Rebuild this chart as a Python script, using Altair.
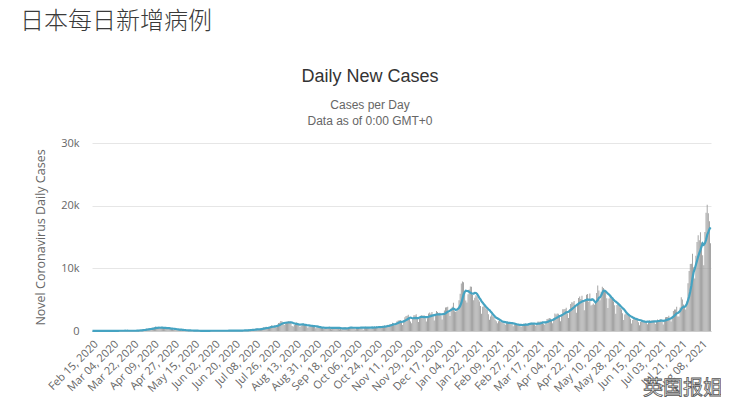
import altair as alt
import pandas as pd

# Daily new cases, Japan, month by month
feb20 = [12, 6, 6, 9, 11, 12, 12, 22, 12, 13, 15, 20, 20, 22, 9]
mar20 = [14, 15, 19, 33, 36, 49, 48, 33, 32, 26, 54, 52, 55, 41, 64, 15, 36, 39, 40, 36,
         53, 43, 39, 43, 65, 96, 112, 194, 173, 87, 225]
apr20 = [266, 235, 351, 367, 383, 252, 351, 511, 503, 579, 720, 507, 391, 460, 482, 584,
         558, 583, 374, 358, 378, 420, 448, 394, 356, 303, 213, 232, 260, 165]
may20 = [228, 202, 232, 126, 124, 98, 104, 79, 91, 92, 67, 83, 46, 91, 48, 43, 21, 29, 37,
         32, 19, 33, 23, 30, 14, 35, 40, 58, 48, 37, 46]
jun20 = [29, 41, 32, 46, 44, 35, 38, 29, 36, 43, 46, 50, 38, 58, 71, 40, 66, 40, 68, 46,
         59, 53, 35, 96, 49, 103, 81, 115, 113, 80]
jul20 = [101, 179, 203, 229, 238, 204, 147, 177, 410, 394, 311, 310, 253, 238, 450, 621,
         595, 660, 511, 423, 630, 795, 920, 770, 838, 821, 613, 981, 1264, 1301, 1580]
aug20 = [1536, 1332, 963, 1240, 1356, 1485, 1597, 1566, 1442, 804, 703, 962, 1177, 1360,
         1232, 1023, 639, 893, 1055, 1148, 1025, 1003, 760, 528, 716, 880, 912, 849, 810,
         685, 438]
sep20 = [618, 592, 593, 613, 528, 468, 355, 510, 493, 647, 648, 545, 438, 272, 519, 514,
         565, 600, 558, 437, 286, 320, 273, 472, 557, 644, 477, 301, 517, 631]
oct20 = [622, 539, 563, 450, 281, 495, 589, 648, 609, 613, 491, 219, 530, 689, 610, 658,
         620, 418, 308, 642, 615, 682, 625, 769, 541, 455, 708, 718, 769, 787, 863]
nov20 = [614, 847, 1011, 864, 1110, 1133, 1323, 1203, 926, 1273, 1545, 1661, 1704, 1737,
         1441, 942, 1698, 2201, 2388, 2419, 2596, 2164, 1518, 1228, 1945, 2505, 2505, 2682,
         2072, 1426]
dec20 = [2041, 2434, 2514, 2442, 2514, 2044, 1528, 2023, 2805, 2965, 2766, 3033, 2387,
         1680, 2428, 3211, 3044, 2848, 2901, 2424, 1827, 2713, 3269, 3740, 3795, 3888,
         2946, 2395, 3597, 3852, 4520]
jan21 = [3141, 3058, 3139, 3323, 4915, 5934, 7570, 7882, 7787, 6095, 4876, 4537, 5870,
         6604, 7101, 7042, 5759, 4925, 5320, 5693, 5549, 5043, 4716, 3978, 2764, 3853,
         3950, 4131, 3539, 3345, 2675]
feb21 = [1792, 2324, 2630, 2373, 2279, 1780, 1570, 1217, 1570, 1908, 1470, 1400, 1359,
         1200, 1001, 1308, 1527, 1381, 1310, 1233, 1061, 769, 1071, 1097, 1045, 1002,
         1017, 946]
mar21 = [671, 908, 1174, 1170, 1195, 1015, 1008, 1169, 1289, 1321, 1284, 1146, 1052, 823,
         1034, 1498, 1465, 1533, 1460, 1499, 1119, 1012, 1499, 1921, 1949, 2061, 2006,
         1596, 1242, 2046, 2788]
apr21 = [2618, 2774, 2735, 2471, 1571, 2651, 3451, 3453, 3496, 3697, 2778, 2092, 3464,
         4308, 4573, 4541, 4801, 4090, 2925, 4327, 5285, 5504, 5109, 5606, 4603, 3314,
         4843, 5787, 5916, 4679]
may21 = [5986, 4053, 4200, 4373, 4171, 4470, 6054, 7242, 6477, 4919, 6250, 7057, 6870,
         6261, 6420, 5243, 3673, 5192, 5719, 5233, 5076, 4710, 4128, 2767, 4160, 4539,
         4132, 3687, 3419, 2824, 1761]
jun21 = [2626, 2812, 2685, 2456, 2295, 1960, 1212, 1736, 2263, 2094, 1944, 1940, 1386,
         935, 1442, 1803, 1629, 1613, 1528, 1309, 1075, 1406, 1706, 1587, 1733, 1671,
         1465, 1127, 1560, 1818]
jul21 = [1765, 1846, 1910, 1487, 1033, 1639, 2180, 2247, 2245, 2444, 1965, 1503, 2385,
         3194, 3421, 3434, 3878, 2324, 2326, 3758, 5397, 5032, 4225, 3888, 3426, 4692,
         7629, 9576, 10693, 10744, 12341]
aug21 = [10168, 8392, 12016, 14207, 15263, 14472, 15753, 14122, 12076, 10500, 15812,
         18889, 20151, 18800, 17500, 14000]

months = [
    ("2020-02-15", feb20), ("2020-03-01", mar20), ("2020-04-01", apr20),
    ("2020-05-01", may20), ("2020-06-01", jun20), ("2020-07-01", jul20),
    ("2020-08-01", aug20), ("2020-09-01", sep20), ("2020-10-01", oct20),
    ("2020-11-01", nov20), ("2020-12-01", dec20), ("2021-01-01", jan21),
    ("2021-02-01", feb21), ("2021-03-01", mar21), ("2021-04-01", apr21),
    ("2021-05-01", may21), ("2021-06-01", jun21), ("2021-07-01", jul21),
    ("2021-08-01", aug21),
]

rows = []
for start, vals in months:
    s = pd.Timestamp(start)
    for i, v in enumerate(vals):
        rows.append({"date": (s + pd.Timedelta(days=i)).strftime("%Y-%m-%d"), "cases": v})
df = pd.DataFrame(rows)

tick_dates = df["date"].tolist()[::18]
y_ticks = [0, 10000, 20000, 30000]

main_title = "日本每日新增病例"
chart_title = "Daily New Cases"
sub1 = "Cases per Day"
sub2 = "Data as of 0:00 GMT+0"
y_title = "Novel Coronavirus Daily Cases"
watermark = "英国报姐"

FONT = "Liberation Sans"

x_enc = alt.X(
    "date:O",
    scale=alt.Scale(paddingInner=0.22, paddingOuter=0),
    axis=alt.Axis(
        values=tick_dates,
        labelExpr="utcFormat(toDate(datum.value), '%b %d, %Y')",
        labelAngle=-45, labelAlign="right", labelBaseline="top",
        labelOverlap=False, labelPadding=7, labelFontSize=11,
        labelColor="#666666", labelFont="Open Sans",
        ticks=False, grid=False, domainColor="#cccccc", title=None,
    ),
)

base = alt.Chart(df)

bars = base.mark_bar(color="#999999").encode(
    x=x_enc,
    y=alt.Y(
        "cases:Q",
        scale=alt.Scale(domain=[0, 30000], nice=False),
        axis=alt.Axis(
            values=y_ticks,
            labelExpr="datum.value == 0 ? '0' : (datum.value / 1000) + 'k'",
            grid=True, gridColor="#e6e6e6", domain=False, ticks=False,
            labelPadding=13, labelFontSize=11, labelColor="#666666",
            labelFont="Open Sans",
            title=y_title, titleX=-52, titleY=94, titleAngle=270,
            titleAlign="center", titleBaseline="middle",
            titleFontWeight="normal", titleFontSize=12.5, titleColor="#666666",
            titleFont="Open Sans",
        ),
    ),
)

line = base.transform_window(
    avg="mean(cases)", frame=[-6, 0], sort=[alt.SortField("date")]
).mark_line(color="#45a3c2", strokeWidth=2.2).encode(
    x=alt.X("date:O"),
    y=alt.Y("avg:Q"),
)


def label(text, x, y, size, color, align="left", font=FONT, weight="normal", **kw):
    return alt.Chart(pd.DataFrame({"t": [text]})).mark_text(
        align=align, baseline="alphabetic", fontSize=size, color=color,
        font=font, fontWeight=weight, **kw
    ).encode(text="t:N", x=alt.value(x), y=alt.value(y))


t_main = label(main_title, -72, -114, 24, "#3a3a3a", font="Noto Sans CJK SC", weight=300)
t_chart = label(chart_title, 278, -61, 18, "#333333", align="center")
t_sub1 = label(sub1, 278, -34, 12, "#666666", align="center")
t_sub2 = label(sub2, 278, -18, 12, "#666666", align="center")
t_wm = label(watermark, 551, 252, 20, "#ffffff", font="Noto Sans CJK SC",
             stroke="#555555", strokeWidth=0.8)

chart = alt.layer(bars, line, t_main, t_chart, t_sub1, t_sub2, t_wm).properties(
    width=619, height=188,
    padding={"left": 84, "top": 135, "right": 10, "bottom": 80},
    autosize=alt.AutoSizeParams(type="none"),
).configure_view(stroke=None)

chart.save("out.html", embed_options={"renderer": "svg", "actions": False})
